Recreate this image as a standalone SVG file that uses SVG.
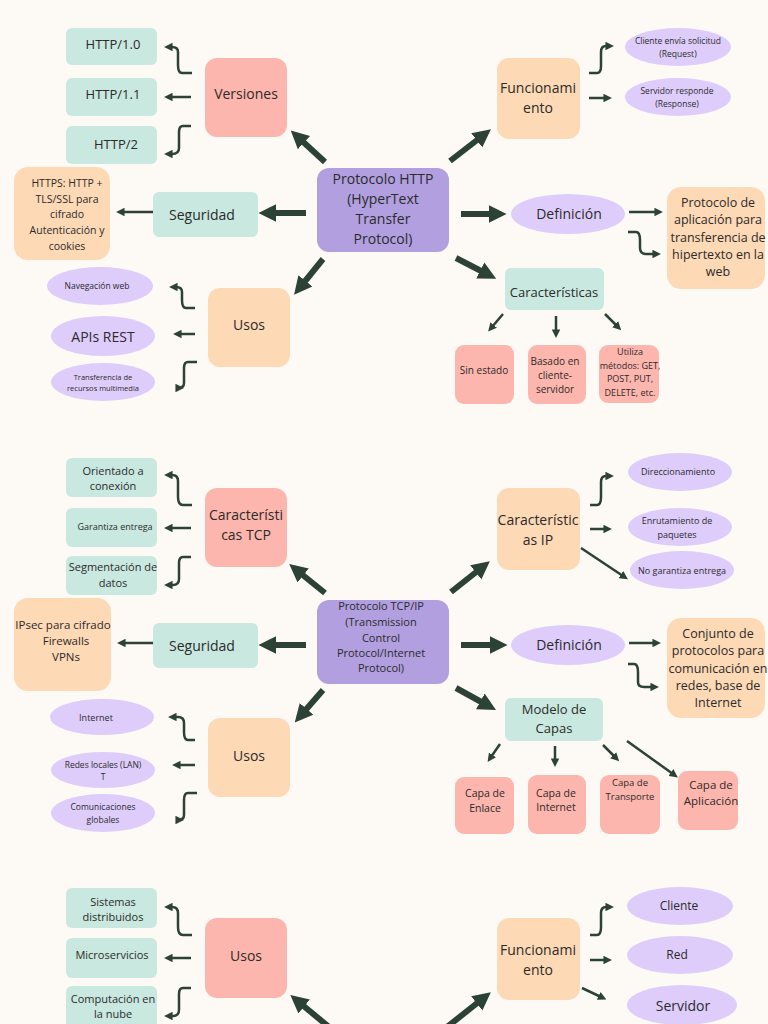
<svg xmlns="http://www.w3.org/2000/svg" width="768" height="1024" viewBox="0 0 768 1024">
<style>
text{font-family:"Open Sans","Liberation Sans",sans-serif;fill:#2b2b2b;text-anchor:middle}
.teal{fill:#c9e8df}.sal{fill:#fdb6ad}.pch{fill:#fdd9b6}.lav{fill:#decdfb}.ctr{fill:#b19fe0}
.thick{stroke:#2c4236;stroke-width:6;fill:none;marker-end:url(#hb)}
.thin{stroke:#2c4236;stroke-width:2.5;fill:none;marker-end:url(#hs)}
</style>
<defs>
<marker id="hb" viewBox="0 0 10 10" refX="3" refY="5" markerWidth="3" markerHeight="3.4" orient="auto"><path d="M0,0 L10,5 L0,10 Z" fill="#2c4236"/></marker>
<marker id="hs" viewBox="0 0 10 10" refX="3" refY="5" markerWidth="3.4" markerHeight="3.4" orient="auto"><path d="M0,0 L10,5 L0,10 Z" fill="#2c4236"/></marker>
</defs>
<rect width="768" height="1024" fill="#fdfaf6"/>

<!-- Section 1 -->
<g id="http-center"><rect class="ctr" x="317" y="168" width="132" height="84" rx="12"/><text font-size="14"><tspan x="383" y="184">Protocolo HTTP</tspan><tspan x="383" y="204">(HyperText</tspan><tspan x="383" y="224">Transfer</tspan><tspan x="383" y="244">Protocol)</tspan></text></g>
<g id="versiones"><rect class="sal" x="205" y="58" width="82" height="79" rx="12"/><text x="246" y="99" font-size="14">Versiones</text></g>
<g id="http10"><rect class="teal" x="66" y="28" width="91" height="37" rx="6"/><text x="113" y="49" font-size="13">HTTP/1.0</text></g>
<g id="http11"><rect class="teal" x="66" y="78" width="91" height="38" rx="6"/><text x="113" y="99" font-size="13">HTTP/1.1</text></g>
<g id="http2"><rect class="teal" x="66" y="126" width="91" height="38" rx="6"/><text x="116" y="149" font-size="13">HTTP/2</text></g>
<g id="seguridad1"><rect class="teal" x="153" y="192" width="105" height="45" rx="6"/><text x="202" y="220" font-size="14">Seguridad</text></g>
<g id="https"><rect class="pch" x="14" y="167" width="96" height="93" rx="14"/><text font-size="10.5"><tspan x="67" y="187">HTTPS: HTTP +</tspan><tspan x="67" y="203">TLS/SSL para</tspan><tspan x="67" y="218">cifrado</tspan><tspan x="67" y="234">Autenticación y</tspan><tspan x="67" y="250">cookies</tspan></text></g>
<g id="usos1"><rect class="pch" x="208" y="288" width="82" height="79" rx="12"/><text x="249" y="330" font-size="14">Usos</text></g>
<g id="nav"><ellipse class="lav" cx="100" cy="286" rx="53" ry="19"/><text x="97" y="289" font-size="8.5">Navegación web</text></g>
<g id="apis"><ellipse class="lav" cx="103" cy="336" rx="52" ry="20"/><text x="103" y="342" font-size="14">APIs REST</text></g>
<g id="transf"><ellipse class="lav" cx="103" cy="382" rx="52" ry="19"/><text font-size="7.5"><tspan x="103" y="380">Transferencia de</tspan><tspan x="103" y="391">recursos multimedia</tspan></text></g>
<g id="func1"><rect class="pch" x="497" y="58" width="83" height="81" rx="12"/><text font-size="14"><tspan x="538" y="93">Funcionami</tspan><tspan x="538" y="113">ento</tspan></text></g>
<g id="cliente1"><ellipse class="lav" cx="678" cy="47" rx="53" ry="19"/><text font-size="8.5"><tspan x="678" y="44">Cliente envía solicitud</tspan><tspan x="678" y="57">(Request)</tspan></text></g>
<g id="servidor1"><ellipse class="lav" cx="678" cy="97" rx="53" ry="19"/><text font-size="8.5"><tspan x="677" y="94">Servidor responde</tspan><tspan x="677" y="107">(Response)</tspan></text></g>
<g id="def1"><ellipse class="lav" cx="568" cy="214" rx="57" ry="20"/><text x="569" y="219" font-size="14">Definición</text></g>
<g id="protdef"><rect class="pch" x="667" y="187" width="98" height="102" rx="14"/><text font-size="12.5"><tspan x="718" y="207">Protocolo de</tspan><tspan x="718" y="224">aplicación para</tspan><tspan x="718" y="242">transferencia de</tspan><tspan x="718" y="259">hipertexto en la</tspan><tspan x="718" y="276">web</tspan></text></g>
<g id="carac1"><rect class="teal" x="505" y="268" width="99" height="42" rx="6"/><text x="554" y="297" font-size="13">Características</text></g>
<g id="sinestado"><rect class="sal" x="455" y="345" width="59" height="59" rx="9"/><text x="484" y="374" font-size="10">Sin estado</text></g>
<g id="basado"><rect class="sal" x="528" y="345" width="58" height="59" rx="9"/><text font-size="10"><tspan x="555" y="365">Basado en</tspan><tspan x="555" y="379">cliente-</tspan><tspan x="555" y="393">servidor</tspan></text></g>
<g id="utiliza"><rect class="sal" x="599" y="345" width="60" height="58" rx="9"/><text font-size="9"><tspan x="630" y="355">Utiliza</tspan><tspan x="630" y="369">métodos: GET,</tspan><tspan x="630" y="382">POST, PUT,</tspan><tspan x="630" y="396">DELETE, etc.</tspan></text></g>

<!-- Section 2 -->
<g id="tcp-center"><rect class="ctr" x="317" y="600" width="132" height="84" rx="12"/><text font-size="11"><tspan x="381" y="610">Protocolo TCP/IP</tspan><tspan x="381" y="626">(Transmission</tspan><tspan x="381" y="642">Control</tspan><tspan x="381" y="657">Protocol/Internet</tspan><tspan x="381" y="672">Protocol)</tspan></text></g>
<g id="ctcp"><rect class="sal" x="205" y="488" width="82" height="79" rx="12"/><text font-size="14"><tspan x="246" y="520">Característi</tspan><tspan x="246" y="540">cas TCP</tspan></text></g>
<g id="orientado"><rect class="teal" x="66" y="458" width="91" height="39" rx="6"/><text font-size="11"><tspan x="113" y="475">Orientado a</tspan><tspan x="113" y="490">conexión</tspan></text></g>
<g id="garantiza"><rect class="teal" x="66" y="508" width="91" height="39" rx="6"/><text x="115" y="530" font-size="9">Garantiza entrega</text></g>
<g id="segmentacion"><rect class="teal" x="66" y="556" width="91" height="39" rx="6"/><text font-size="11"><tspan x="113" y="571">Segmentación de</tspan><tspan x="113" y="587">datos</tspan></text></g>
<g id="seguridad2"><rect class="teal" x="153" y="623" width="105" height="45" rx="6"/><text x="202" y="651" font-size="14">Seguridad</text></g>
<g id="ipsec"><rect class="pch" x="14" y="598" width="97" height="93" rx="14"/><text font-size="11.5"><tspan x="63" y="629">IPsec para cifrado</tspan><tspan x="66" y="645">Firewalls</tspan><tspan x="66" y="661">VPNs</tspan></text></g>
<g id="usos2"><rect class="pch" x="208" y="718" width="82" height="79" rx="12"/><text x="249" y="761" font-size="14">Usos</text></g>
<g id="internet"><ellipse class="lav" cx="102" cy="717" rx="52" ry="18"/><text x="96" y="721" font-size="9">Internet</text></g>
<g id="redes"><ellipse class="lav" cx="103" cy="770" rx="52" ry="18"/><text font-size="8.5"><tspan x="103" y="768">Redes locales (LAN)</tspan><tspan x="103" y="780">T</tspan></text></g>
<g id="comun"><ellipse class="lav" cx="103" cy="813" rx="52" ry="19"/><text font-size="8.5"><tspan x="103" y="810">Comunicaciones</tspan><tspan x="103" y="823">globales</tspan></text></g>
<g id="cip"><rect class="pch" x="497" y="488" width="83" height="82" rx="12"/><text font-size="14"><tspan x="538" y="525">Característic</tspan><tspan x="538" y="545">as IP</tspan></text></g>
<g id="direcc"><ellipse class="lav" cx="680" cy="472" rx="52" ry="19"/><text x="678" y="475" font-size="9">Direccionamiento</text></g>
<g id="enrut"><ellipse class="lav" cx="680" cy="527" rx="52" ry="19"/><text font-size="9"><tspan x="677" y="524">Enrutamiento de</tspan><tspan x="677" y="538">paquetes</tspan></text></g>
<g id="nogar"><ellipse class="lav" cx="682" cy="570" rx="52" ry="19"/><text x="682" y="574" font-size="9">No garantiza entrega</text></g>
<g id="def2"><ellipse class="lav" cx="568" cy="645" rx="57" ry="20"/><text x="569" y="650" font-size="14">Definición</text></g>
<g id="conjunto"><rect class="pch" x="667" y="618" width="98" height="100" rx="14"/><text font-size="12.5"><tspan x="718" y="638">Conjunto de</tspan><tspan x="718" y="655">protocolos para</tspan><tspan x="718" y="673">comunicación en</tspan><tspan x="718" y="690">redes, base de</tspan><tspan x="718" y="707">Internet</tspan></text></g>
<g id="modelo"><rect class="teal" x="505" y="698" width="98" height="43" rx="6"/><text font-size="13"><tspan x="554" y="714">Modelo de</tspan><tspan x="554" y="733">Capas</tspan></text></g>
<g id="enlace"><rect class="sal" x="455" y="777" width="59" height="57" rx="9"/><text font-size="10.5"><tspan x="485" y="797">Capa de</tspan><tspan x="485" y="812">Enlace</tspan></text></g>
<g id="cinternet"><rect class="sal" x="528" y="775" width="58" height="59" rx="9"/><text font-size="10.5"><tspan x="556" y="797">Capa de</tspan><tspan x="556" y="811">Internet</tspan></text></g>
<g id="transporte"><rect class="sal" x="600" y="775" width="60" height="59" rx="9"/><text font-size="9.5"><tspan x="630" y="786">Capa de</tspan><tspan x="630" y="800">Transporte</tspan></text></g>
<g id="aplicacion"><rect class="sal" x="678" y="771" width="60" height="59" rx="9"/><text font-size="11.5"><tspan x="711" y="789">Capa de</tspan><tspan x="711" y="805">Aplicación</tspan></text></g>

<!-- Section 3 -->
<g id="usos3"><rect class="sal" x="205" y="918" width="82" height="80" rx="12"/><text x="246" y="961" font-size="14">Usos</text></g>
<g id="sistemas"><rect class="teal" x="66" y="888" width="91" height="40" rx="6"/><text font-size="11"><tspan x="113" y="906">Sistemas</tspan><tspan x="113" y="921">distribuidos</tspan></text></g>
<g id="micro"><rect class="teal" x="66" y="938" width="91" height="40" rx="6"/><text x="112" y="959" font-size="11">Microservicios</text></g>
<g id="computacion"><rect class="teal" x="66" y="986" width="91" height="44" rx="6"/><text font-size="11"><tspan x="113" y="1003">Computación en</tspan><tspan x="113" y="1018">la nube</tspan></text></g>
<g id="func3"><rect class="pch" x="497" y="918" width="83" height="82" rx="12"/><text font-size="14"><tspan x="538" y="955">Funcionami</tspan><tspan x="538" y="975">ento</tspan></text></g>
<g id="cliente3"><ellipse class="lav" cx="680" cy="906" rx="53" ry="19"/><text x="679" y="910" font-size="12">Cliente</text></g>
<g id="red3"><ellipse class="lav" cx="680" cy="955" rx="53" ry="19"/><text x="677" y="959" font-size="12">Red</text></g>
<g id="servidor3"><ellipse class="lav" cx="682" cy="1005" rx="55" ry="20"/><text x="683" y="1011" font-size="14">Servidor</text></g>

<g id="connectors">
<path class="thick" d="M325,162 L300,139"/>
<path class="thick" d="M306,213 L271,213"/>
<path class="thick" d="M323,259 L302,285"/>
<path class="thick" d="M450,161 L481,137"/>
<path class="thick" d="M461,214 L494,214"/>
<path class="thick" d="M456,258 L485,273"/>
<path class="thin" d="M192,73 H182 Q178,73 178,65 V52 Q178,47 172,47 H170"/>
<path class="thin" d="M191,97 H170"/>
<path class="thin" d="M191,126 H183 Q179,126 179,132 V148 Q179,154 172,154 H170"/>
<path class="thin" d="M153,212 H122"/>
<path class="thin" d="M195,308 H186 Q182,308 182,300 V292 Q182,287 176,287 H175"/>
<path class="thin" d="M195,334 H179"/>
<path class="thin" d="M197,362 H188 Q184,362 184,368 V383 Q184,388 178,388 H178"/>
<path class="thin" d="M589,73 H597 Q601,73 601,66 V52 Q601,46 606,46 H608"/>
<path class="thin" d="M589,98 H606"/>
<path class="thin" d="M629,212 H657"/>
<path class="thin" d="M628,232 H636 Q640,232 640,240 V248 Q640,254 646,254 H655"/>
<path class="thin" d="M503,314 L492,327"/>
<path class="thin" d="M556,316 V332"/>
<path class="thin" d="M605,314 L617,326"/>

<path class="thick" d="M325,593 L299,572"/>
<path class="thick" d="M306,645 L271,645"/>
<path class="thick" d="M323,690 L303,713"/>
<path class="thick" d="M451,592 L480,569"/>
<path class="thick" d="M461,645 L495,645"/>
<path class="thick" d="M456,688 L485,704"/>
<path class="thin" d="M192,505 H183 Q178,505 178,497 V481 Q178,475 172,475 H170"/>
<path class="thin" d="M191,528 H170"/>
<path class="thin" d="M191,557 H183 Q179,557 179,563 V579 Q179,585 173,585 H170"/>
<path class="thin" d="M153,643 H123"/>
<path class="thin" d="M195,740 H188 Q184,740 184,732 V723 Q184,717 178,717 H174"/>
<path class="thin" d="M195,765 H178"/>
<path class="thin" d="M197,793 H188 Q184,793 184,800 V815 Q184,820 178,820 H178"/>
<path class="thin" d="M590,505 H597 Q601,505 601,497 V482 Q601,476 606,476 H608"/>
<path class="thin" d="M590,529 H606"/>
<path class="thin" d="M581,548 L623,576"/>
<path class="thin" d="M629,643 H655"/>
<path class="thin" d="M628,664 H634 Q638,664 638,672 V682 Q638,687 644,687 H653"/>
<path class="thin" d="M500,744 L491,757"/>
<path class="thin" d="M555,746 V761"/>
<path class="thin" d="M603,745 L615,757"/>
<path class="thin" d="M627,741 L673,774"/>

<path class="thick" d="M329,1027 L300,1003"/>
<path class="thick" d="M447,1027 L481,1000"/>
<path class="thin" d="M192,935 H183 Q178,935 178,927 V913 Q178,907 172,907 H170"/>
<path class="thin" d="M191,958 H170"/>
<path class="thin" d="M191,988 H183 Q179,988 179,994 V1010 Q179,1016 173,1016 H170"/>
<path class="thin" d="M590,935 H597 Q601,935 601,927 V913 Q601,907 606,907 H608"/>
<path class="thin" d="M590,960 H606"/>
<path class="thin" d="M582,988 L601,997"/>
</g>
</svg>
